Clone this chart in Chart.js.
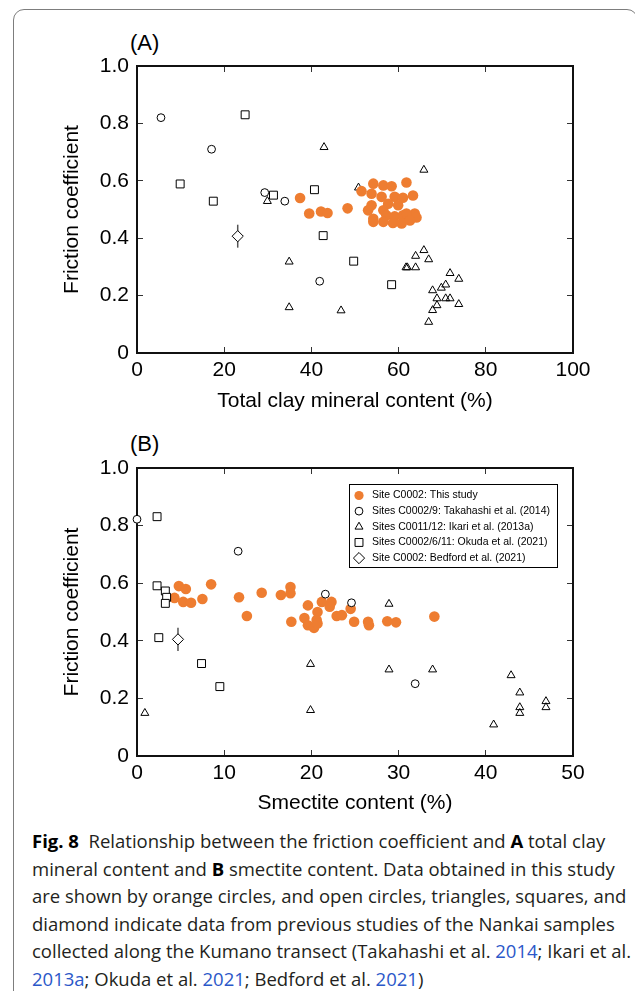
<!DOCTYPE html>
<html lang="en">
<head>
    <meta charset="UTF-8">
    <title>Fig. 8 Friction coefficient vs clay content</title>
    <script src="https://cdn.jsdelivr.net/npm/chart.js"></script>
    <style>
        html, body { margin: 0; padding: 0; background: #fff; overflow: hidden; }
        body { width: 635px; height: 991px; position: relative; }
        .frame { position: absolute; left: 13px; top: 9px; width: 625px; height: 1100px;
                 box-sizing: border-box; border: 1.5px solid #7d7d7d; border-radius: 11px; }
        canvas { position: absolute; left: 0; }
        .panel { position: absolute; left: 130px; font: 22px "Liberation Sans", Arial, sans-serif; color: #000; line-height: 1; }
        .caption { position: absolute; left: 32px; top: 827px; width: 600px;
                   font: 18.5px "Open Sans", sans-serif; line-height: 27.5px; color: #231f20; white-space: nowrap; }
        .caption b { color: #000; }
        .caption a { color: #2b58c9; text-decoration: none; }
    </style>
</head>
<body>
    <div class="frame"></div>
    <div class="panel" style="top:32px;">(A)</div>
    <canvas id="chartA" width="635" height="420" style="top:0;"></canvas>
    <div class="panel" style="top:433px;">(B)</div>
    <canvas id="chartB" width="635" height="405" style="top:420px;"></canvas>

    <div class="caption">
        <b>Fig. 8</b>&nbsp; Relationship between the friction coefficient and <b>A</b> total clay<br>
        mineral content and <b>B</b> smectite content. Data obtained in this study<br>
        are shown by orange circles, and open circles, triangles, squares, and<br>
        diamond indicate data from previous studies of the Nankai samples<br>
        collected along the Kumano transect (Takahashi et al. <a>2014</a>; Ikari et al.<br>
        <a>2013a</a>; Okuda et al. <a>2021</a>; Bedford et al. <a>2021</a>)
    </div>

    <script>
        // ---- data ----
        const legendLabels = [
            'Site C0002: This study',
            'Sites C0002/9: Takahashi et al. (2014)',
            'Sites C0011/12: Ikari et al. (2013a)',
            'Sites C0002/6/11: Okuda et al. (2021)',
            'Site C0002: Bedford et al. (2021)'
        ];
        const yTickLabels = ['0', '0.2', '0.4', '0.6', '0.8', '1.0'];
        const xTicksA = ['0', '20', '40', '60', '80', '100'];
        const xTicksB = ['0', '10', '20', '30', '40', '50'];

        // (A) total clay mineral content (%)
        const aOrangeX = [37.4, 39.5, 42.2, 43.7, 48.3, 51.5, 54.2, 56.5, 58.4, 61.8, 53.8, 56.1, 59.1, 61.0, 63.3, 53.8, 57.6, 59.9, 53.0, 56.5, 54.2, 57.2, 59.1, 61.0, 63.7, 64.1, 61.8, 54.2, 56.5, 58.7, 60.7, 62.6];
        const aOrangeY = [0.54, 0.486, 0.493, 0.488, 0.504, 0.564, 0.59, 0.584, 0.581, 0.594, 0.555, 0.544, 0.544, 0.541, 0.549, 0.515, 0.52, 0.515, 0.497, 0.497, 0.468, 0.48, 0.476, 0.48, 0.486, 0.472, 0.486, 0.457, 0.457, 0.453, 0.451, 0.462];
        const aCircleX = [5.5, 17.1, 29.3, 33.9, 41.9];
        const aCircleY = [0.82, 0.71, 0.559, 0.529, 0.25];
        const aTriX = [42.9, 65.8, 50.8, 29.9, 34.9, 34.9, 46.8, 65.8, 63.9, 66.9, 61.7, 62.0, 63.9, 71.8, 73.8, 70.8, 69.8, 67.8, 68.8, 70.8, 71.8, 68.8, 73.8, 67.8, 66.9];
        const aTriY = [0.717, 0.638, 0.576, 0.529, 0.318, 0.159, 0.148, 0.358, 0.338, 0.326, 0.298, 0.298, 0.298, 0.278, 0.258, 0.238, 0.227, 0.218, 0.19, 0.19, 0.19, 0.166, 0.17, 0.149, 0.108];
        const aSqX = [24.8, 9.9, 17.5, 31.3, 40.7, 42.7, 49.7, 58.4];
        const aSqY = [0.83, 0.589, 0.529, 0.55, 0.569, 0.409, 0.32, 0.238];
        const aDiaX = [23.1];
        const aDiaY = [0.407];
        const aDiaErr = [0.04];

        // (B) smectite content (%)
        const bOrangeX = [4.3, 4.8, 5.6, 5.3, 6.2, 7.5, 8.5, 11.7, 12.6, 14.3, 16.5, 17.6, 17.6, 17.7, 19.6, 19.2, 19.6, 20.3, 20.7, 20.6, 20.7, 21.2, 22.3, 22.1, 22.9, 23.5, 24.5, 24.9, 26.5, 26.6, 28.7, 29.7, 34.1];
        const bOrangeY = [0.549, 0.59, 0.58, 0.535, 0.532, 0.545, 0.596, 0.551, 0.486, 0.567, 0.559, 0.587, 0.565, 0.466, 0.523, 0.479, 0.454, 0.445, 0.50, 0.472, 0.46, 0.535, 0.535, 0.518, 0.486, 0.489, 0.511, 0.466, 0.466, 0.454, 0.468, 0.464, 0.484];
        const bCircleX = [0, 11.6, 21.6, 24.6, 31.9];
        const bCircleY = [0.822, 0.711, 0.562, 0.532, 0.251];
        const bTriX = [0.9, 19.9, 19.9, 28.9, 28.9, 33.9, 42.9, 43.9, 43.9, 43.9, 40.9, 46.9, 46.9];
        const bTriY = [0.149, 0.319, 0.159, 0.528, 0.30, 0.30, 0.28, 0.22, 0.169, 0.149, 0.109, 0.19, 0.169];
        const bSqX = [2.3, 2.3, 3.25, 3.4, 3.25, 2.5, 7.4, 9.5];
        const bSqY = [0.831, 0.591, 0.573, 0.551, 0.53, 0.411, 0.321, 0.241];
        const bDiaX = [4.7];
        const bDiaY = [0.405];
        const bDiaErr = [0.04];

        const FONT = '"Liberation Sans", Arial, sans-serif';
        const ORANGE = '#ee7d31';
        Chart.defaults.font.family = FONT;
        Chart.defaults.color = '#000';

        const pts = (xs, ys) => xs.map((x, i) => ({ x: x, y: ys[i] }));

        // vertical error bars for the Bedford diamond
        const errorBars = {
            id: 'errorBars',
            beforeDatasetsDraw(chart) {
                const ctx = chart.ctx;
                const ys = chart.scales.y;
                chart.data.datasets.forEach((ds, i) => {
                    if (!ds.yErr) return;
                    chart.getDatasetMeta(i).data.forEach((el, j) => {
                        const v = ds.data[j];
                        ctx.save();
                        ctx.strokeStyle = '#555';
                        ctx.lineWidth = 1.5;
                        ctx.beginPath();
                        ctx.moveTo(el.x, ys.getPixelForValue(v.y + ds.yErr[j]));
                        ctx.lineTo(el.x, ys.getPixelForValue(v.y - ds.yErr[j]));
                        ctx.stroke();
                        ctx.restore();
                    });
                });
            }
        };

        // boxed legend drawn inside the plot (top right)
        const insideLegend = {
            id: 'insideLegend',
            afterDraw(chart, args, opts) {
                if (!opts.show) return;
                const { ctx, chartArea } = chart;
                const w = 208, h = 83;
                const x0 = Math.round(chartArea.right - 16 - w), y0 = Math.round(chartArea.top + 16);
                ctx.save();
                ctx.fillStyle = '#fff';
                ctx.fillRect(x0, y0, w, h);
                ctx.strokeStyle = '#000';
                ctx.lineWidth = 1;
                ctx.strokeRect(x0 + 0.5, y0 + 0.5, w, h);
                ctx.font = '10.5px ' + FONT;
                ctx.textBaseline = 'middle';
                chart.data.datasets.forEach((ds, i) => {
                    const cy = y0 + 11.5 + i * 15.65;
                    ctx.fillStyle = ds.backgroundColor;
                    ctx.strokeStyle = ds.borderColor;
                    ctx.lineWidth = ds.borderWidth;
                    Chart.helpers.drawPoint(ctx, {
                        pointStyle: ds.pointStyle,
                        radius: ds.legendRadius,
                        borderWidth: ds.borderWidth,
                        rotation: 0
                    }, x0 + 10, cy);
                    ctx.fillStyle = '#000';
                    ctx.fillText(ds.label, x0 + 23, cy);
                });
                ctx.restore();
            }
        };

        function makeDatasets(d) {
            return [
                { label: legendLabels[0], data: pts(d.ox, d.oy), pointStyle: 'circle', pointRadius: 5.3, legendRadius: 4.6,
                  backgroundColor: ORANGE, borderColor: ORANGE, borderWidth: 0, order: 3 },
                { label: legendLabels[1], data: pts(d.cx, d.cy), pointStyle: 'circle', pointRadius: 3.9, legendRadius: 3.9,
                  backgroundColor: '#fff', borderColor: '#000', borderWidth: 1, order: 0 },
                { label: legendLabels[2], data: pts(d.tx, d.ty), pointStyle: 'triangle', pointRadius: 4.6, legendRadius: 4.6,
                  backgroundColor: 'rgba(255,255,255,0)', borderColor: '#000', borderWidth: 1, order: 4 },
                { label: legendLabels[3], data: pts(d.sx, d.sy), pointStyle: 'rect', pointRadius: 5.6, legendRadius: 5.6,
                  backgroundColor: '#fff', borderColor: '#000', borderWidth: 1, order: 2 },
                { label: legendLabels[4], data: pts(d.dx, d.dy), yErr: d.de, pointStyle: 'rectRot', pointRadius: 5.6, legendRadius: 5.6,
                  backgroundColor: '#fff', borderColor: '#000', borderWidth: 1, order: 1 }
            ].map(ds => Object.assign(ds, { clip: false, pointHoverRadius: ds.pointRadius }));
        }

        function makeOptions(c) {
            const grid = { drawOnChartArea: false, tickLength: -6, color: '#333', lineWidth: 1 };
            const border = { display: true, color: '#111', width: 2 };
            return {
                responsive: false,
                animation: false,
                events: [],
                layout: { padding: { left: 0, right: 62, top: c.padTop, bottom: 0 } },
                plugins: { legend: { display: false }, tooltip: { enabled: false }, insideLegend: { show: c.legend } },
                scales: {
                    x: {
                        type: 'linear', position: 'bottom', min: 0, max: c.xMax,
                        ticks: { stepSize: c.xStep, padding: 11, font: { size: 21 }, callback: (v, i) => c.xTicks[i] },
                        grid: grid, border: border,
                        title: { display: true, text: c.xTitle, font: { size: 21 }, padding: { top: 0, bottom: c.titlePad } },
                        afterFit: s => { s.height = c.xHeight; }
                    },
                    y: {
                        type: 'linear', position: 'left', min: 0, max: 1,
                        ticks: { stepSize: 0.2, padding: 14, font: { size: 21 }, callback: (v, i) => yTickLabels[i] },
                        grid: grid, border: border,
                        title: { display: true, text: 'Friction coefficient', font: { size: 21 }, padding: { top: 60, bottom: 0 } },
                        afterFit: s => { s.width = 137; }
                    },
                    x2: {
                        axis: 'x', type: 'linear', position: 'top', min: 0, max: c.xMax,
                        ticks: { display: false, stepSize: c.xStep },
                        grid: grid, border: border,
                        afterFit: s => { s.height = 0; }
                    },
                    y2: {
                        axis: 'y', type: 'linear', position: 'right', min: 0, max: 1,
                        ticks: { display: false, stepSize: 0.2 },
                        grid: grid, border: border,
                        afterFit: s => { s.width = 0; }
                    }
                }
            };
        }

        new Chart(document.getElementById('chartA'), {
            type: 'scatter',
            data: { datasets: makeDatasets({
                ox: aOrangeX, oy: aOrangeY, cx: aCircleX, cy: aCircleY, tx: aTriX, ty: aTriY,
                sx: aSqX, sy: aSqY, dx: aDiaX, dy: aDiaY, de: aDiaErr }) },
            options: makeOptions({ xMax: 100, xStep: 20, xTicks: xTicksA, xTitle: 'Total clay mineral content (%)',
                padTop: 66, xHeight: 67, titlePad: 6, legend: false }),
            plugins: [errorBars, insideLegend]
        });

        new Chart(document.getElementById('chartB'), {
            type: 'scatter',
            data: { datasets: makeDatasets({
                ox: bOrangeX, oy: bOrangeY, cx: bCircleX, cy: bCircleY, tx: bTriX, ty: bTriY,
                sx: bSqX, sy: bSqY, dx: bDiaX, dy: bDiaY, de: bDiaErr }) },
            options: makeOptions({ xMax: 50, xStep: 10, xTicks: xTicksB, xTitle: 'Smectite content (%)',
                padTop: 48, xHeight: 69, titlePad: 9, legend: true }),
            plugins: [errorBars, insideLegend]
        });
    </script>
</body>
</html>
